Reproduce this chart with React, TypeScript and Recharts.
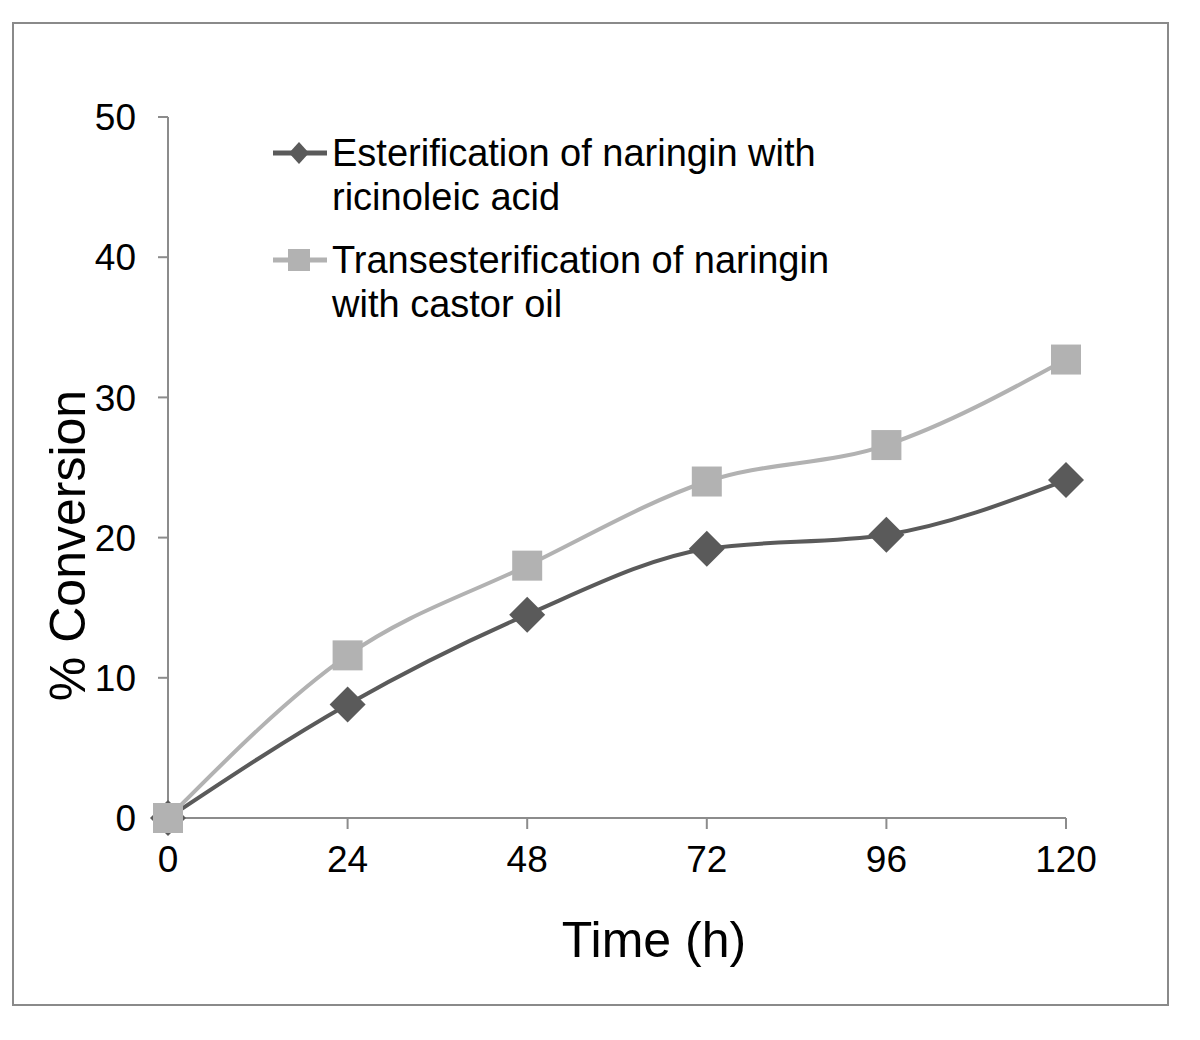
import React from "react";
import { LineChart, Line, XAxis, YAxis, Label } from "recharts";

const hours = [0, 24, 48, 72, 96, 120];
const esterification = [0, 8.1, 14.5, 19.2, 20.2, 24.1];
const transesterification = [0, 11.6, 18.0, 24.0, 26.6, 32.7];
const yTicks = [0, 10, 20, 30, 40, 50];

const esterName = ["Esterification of naringin with", "ricinoleic acid"];
const transName = ["Transesterification of naringin", "with castor oil"];

const data = hours.map((h, i) => ({
  time: h,
  ester: esterification[i],
  trans: transesterification[i]
}));

const FONT = '"Liberation Sans", Arial, sans-serif';
const DARK = "#5a5a5a";
const LIGHT = "#b2b2b2";
const AXIS = "#8c8c8c";

const diamondDot = (p: any) => {
  const { cx, cy, index } = p;
  const r = 18;
  return (
    <path
      key={`d-${index}`}
      d={`M${cx},${cy - r}L${cx + r},${cy}L${cx},${cy + r}L${cx - r},${cy}Z`}
      fill={DARK}
    />
  );
};

const squareDot = (p: any) => {
  const { cx, cy, index } = p;
  const s = 15;
  return (
    <rect key={`s-${index}`} x={cx - s} y={cy - s} width={s * 2} height={s * 2} fill={LIGHT} />
  );
};

function LegendIcon({ color, marker }: { color: string; marker: "diamond" | "square" }) {
  return (
    <svg width={60} height={26} style={{ position: "absolute", left: 0, top: 9 }}>
      <line x1={3} y1={13} x2={57} y2={13} stroke={color} strokeWidth={5} />
      {marker === "diamond" ? (
        <path d="M29,2L39,13L29,24L19,13Z" fill={color} />
      ) : (
        <rect x={18} y={2} width={22} height={22} fill={color} />
      )}
    </svg>
  );
}

function ChartLegend() {
  const entries = [
    { lines: esterName, color: DARK, marker: "diamond" as const },
    { lines: transName, color: LIGHT, marker: "square" as const }
  ];
  return (
    <div
      style={{
        position: "absolute",
        left: 270,
        top: 131,
        fontFamily: FONT,
        fontSize: 38,
        lineHeight: "44px",
        color: "#000"
      }}
    >
      {entries.map((e, i) => (
        <div key={i} style={{ position: "relative", paddingLeft: 62, marginTop: i === 0 ? 0 : 19 }}>
          <LegendIcon color={e.color} marker={e.marker} />
          {e.lines.map((l, j) => (
            <div key={j} style={{ whiteSpace: "nowrap" }}>{l}</div>
          ))}
        </div>
      ))}
    </div>
  );
}

export default function App() {
  return (
    <div style={{ position: "absolute", left: 0, top: 0, width: 1200, height: 1040, background: "#fff" }}>
      <div
        style={{
          position: "absolute",
          left: 12,
          top: 22,
          width: 1153,
          height: 980,
          border: "2px solid #8a8a8a"
        }}
      />
      <div style={{ position: "absolute", left: 0, top: 0 }}>
        <LineChart
          width={1200}
          height={1040}
          data={data}
          margin={{ top: 117, right: 134, bottom: 162, left: 68 }}
        >
          <XAxis
            dataKey="time"
            type="number"
            domain={[0, 120]}
            ticks={hours}
            height={60}
            stroke={AXIS}
            strokeWidth={2}
            tickSize={11}
            tickMargin={17}
            tick={{ fill: "#000", fontSize: 37, fontFamily: FONT }}
          >
            <Label
              content={(p: any) => {
                const vb = p.viewBox;
                return (
                  <text
                    x={vb.x + vb.width / 2 + 37}
                    y={vb.y + 139}
                    textAnchor="middle"
                    fontSize={50}
                    fontFamily={FONT}
                    fill="#000"
                  >
                    Time (h)
                  </text>
                );
              }}
            />
          </XAxis>
          <YAxis
            type="number"
            domain={[0, 50]}
            ticks={yTicks}
            width={100}
            stroke={AXIS}
            strokeWidth={2}
            tickSize={10}
            tickMargin={22}
            tick={{ fill: "#000", fontSize: 37, fontFamily: FONT }}
          >
            <Label
              content={(p: any) => {
                const vb = p.viewBox;
                const cx = vb.x;
                const cy = vb.y + vb.height / 2 + 78;
                return (
                  <text
                    x={cx}
                    y={cy}
                    transform={`rotate(-90, ${cx}, ${cy})`}
                    textAnchor="middle"
                    dominantBaseline="central"
                    fontSize={50}
                    fontFamily={FONT}
                    fill="#000"
                  >
                    % Conversion
                  </text>
                );
              }}
            />
          </YAxis>
          <Line
            type="monotone"
            dataKey="ester"
            name={esterName.join(" ")}
            stroke={DARK}
            strokeWidth={4}
            dot={diamondDot}
            isAnimationActive={false}
          />
          <Line
            type="monotone"
            dataKey="trans"
            name={transName.join(" ")}
            stroke={LIGHT}
            strokeWidth={4}
            dot={squareDot}
            isAnimationActive={false}
          />
        </LineChart>
      </div>
      <ChartLegend />
    </div>
  );
}
